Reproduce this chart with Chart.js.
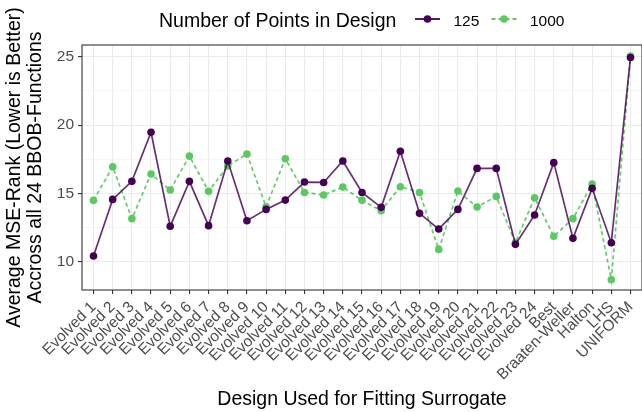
<!DOCTYPE html>
<html>
<head>
<meta charset="utf-8">
<script src="https://cdn.jsdelivr.net/npm/chart.js@4/dist/chart.umd.min.js"></script>
<style>
  html, body { margin: 0; padding: 0; background: #ffffff; }
  #wrap { width: 642px; height: 412px; }
</style>
</head>
<body>
<div id="wrap"><canvas id="c" width="642" height="412"></canvas></div>
<script>
const categories = ['Evolved 1','Evolved 2','Evolved 3','Evolved 4','Evolved 5','Evolved 6','Evolved 7','Evolved 8','Evolved 9','Evolved 10','Evolved 11','Evolved 12','Evolved 13','Evolved 14','Evolved 15','Evolved 16','Evolved 17','Evolved 18','Evolved 19','Evolved 20','Evolved 21','Evolved 22','Evolved 23','Evolved 24','Best','Braaten-Weller','Halton','LHS','UNIFORM'];
const seriesNames = ['125', '1000'];
const values125 = [10.42,14.56,15.88,19.47,12.59,15.88,12.64,17.37,13.0,13.83,14.51,15.83,15.8,17.37,15.07,13.98,18.08,13.54,12.39,13.83,16.83,16.83,11.27,13.42,17.25,11.71,15.37,11.39,24.95];
const values1000 = [14.49,16.95,13.15,16.42,15.25,17.73,15.15,17.0,17.88,14.02,17.54,15.07,14.88,15.46,14.49,13.73,15.49,15.07,10.9,15.17,14.0,14.78,11.39,14.68,11.86,13.15,15.68,8.68,25.05];
const yTicks = [10, 12.5, 15, 17.5, 20, 22.5, 25];
const legendTitle = 'Number of Points in Design';
const yTitle = ['Average MSE-Rank (Lower is Better)', 'Accross all 24 BBOB-Functions'];
const xTitle = 'Design Used for Fitting Surrogate';

const PURPLE = '#440154';
const GREEN = '#5DC863';
const FONT = '"Liberation Sans", Arial, Helvetica, sans-serif';

const panelBorder = {
  id: 'panelBorder',
  afterDatasetsDraw(chart) {
    const {ctx, chartArea: a} = chart;
    ctx.save();
    ctx.strokeStyle = '#333333';
    ctx.lineWidth = 1.1;
    ctx.strokeRect(a.left, a.top, a.right - a.left, a.bottom - a.top);
    ctx.restore();
  }
};

const ggLegend = {
  id: 'ggLegend',
  afterDraw(chart) {
    const ctx = chart.ctx;
    ctx.save();
    ctx.fillStyle = '#000000';
    ctx.textBaseline = 'alphabetic';
    ctx.textAlign = 'left';
    ctx.font = '19.5px ' + FONT;
    ctx.fillText(legendTitle, 159, 26.7);
    const keys = [
      {x: 415, color: PURPLE, dash: [], label: seriesNames[0]},
      {x: 491.5, color: GREEN, dash: [4, 3], label: seriesNames[1]}
    ];
    keys.forEach(k => {
      ctx.strokeStyle = k.color;
      ctx.lineWidth = 1.8;
      ctx.setLineDash(k.dash);
      ctx.beginPath();
      ctx.moveTo(k.x, 19);
      ctx.lineTo(k.x + 25, 19);
      ctx.stroke();
      ctx.setLineDash([]);
      ctx.fillStyle = k.color;
      ctx.beginPath();
      ctx.arc(k.x + 12.5, 19, 3.8, 0, Math.PI * 2);
      ctx.fill();
      ctx.fillStyle = '#000000';
      ctx.font = '15.5px ' + FONT;
      ctx.fillText(k.label, k.x + 38.5, 25.5);
    });
    ctx.restore();
  }
};

const ctx = document.getElementById('c').getContext('2d');
new Chart(ctx, {
  type: 'line',
  data: {
    datasets: [
      {
        label: seriesNames[0],
        data: values125.map((v, i) => ({x: i, y: v})),
        borderColor: 'rgba(68,1,84,0.82)',
        backgroundColor: PURPLE,
        pointBackgroundColor: PURPLE,
        pointBorderColor: PURPLE,
        pointRadius: 3.8,
        pointBorderWidth: 0,
        borderWidth: 1.7,
        tension: 0
      },
      {
        label: seriesNames[1],
        data: values1000.map((v, i) => ({x: i, y: v})),
        borderColor: 'rgba(93,200,99,0.95)',
        backgroundColor: GREEN,
        pointBackgroundColor: GREEN,
        pointBorderColor: GREEN,
        pointRadius: 3.8,
        pointBorderWidth: 0,
        borderWidth: 1.7,
        borderDash: [4, 3],
        tension: 0
      }
    ]
  },
  options: {
    responsive: false,
    animation: false,
    devicePixelRatio: 1,
    layout: { autoPadding: false, padding: { top: 45, left: 0, right: -2, bottom: 0 } },
    plugins: {
      legend: { display: false },
      tooltip: { enabled: false }
    },
    scales: {
      x: {
        type: 'linear',
        min: -0.6,
        max: 28.6,
        afterBuildTicks(scale) {
          scale.ticks = categories.map((c, i) => ({value: i}));
        },
        afterFit(scale) {
          scale.height = 122;
          scale.paddingLeft = 0;
          scale.paddingRight = 0;
        },
        ticks: {
          autoSkip: false,
          maxRotation: 45,
          minRotation: 45,
          padding: 4,
          color: '#4D4D4D',
          font: { family: FONT, size: 15.5 },
          callback: (v) => categories[v]
        },
        grid: {
          color: '#EBEBEB',
          lineWidth: 1.1,
          tickColor: '#333333',
          tickLength: 4,
          tickWidth: 1.1
        },
        border: { display: false },
        title: {
          display: true,
          text: xTitle,
          color: '#000000',
          font: { family: FONT, size: 19.5, lineHeight: 1.08 },
          padding: { top: 0, bottom: 2 }
        }
      },
      y: {
        min: 7.93,
        max: 25.86,
        afterBuildTicks(scale) {
          scale.ticks = yTicks.map(v => ({value: v}));
        },
        afterFit(scale) {
          scale.width = 82;
          scale.paddingTop = 0;
          scale.paddingBottom = 0;
        },
        ticks: {
          padding: 4,
          color: '#4D4D4D',
          font: { family: FONT, size: 15.5 },
          callback: (v) => (v % 5 === 0 ? String(v) : '')
        },
        grid: {
          color: (c) => (c.tick && c.tick.value % 5 === 0 ? '#EBEBEB' : '#F3F3F3'),
          lineWidth: (c) => (c.tick && c.tick.value % 5 === 0 ? 1.1 : 0.8),
          tickColor: (c) => (c.tick && c.tick.value % 5 === 0 ? '#333333' : 'rgba(0,0,0,0)'),
          tickLength: 4,
          tickWidth: 1.1
        },
        border: { display: false },
        title: {
          display: true,
          text: yTitle,
          color: '#000000',
          font: { family: FONT, size: 19.5, lineHeight: 1.08 },
          padding: { top: 4, bottom: 0 }
        }
      }
    }
  },
  plugins: [panelBorder, ggLegend]
});
</script>
</body>
</html>
